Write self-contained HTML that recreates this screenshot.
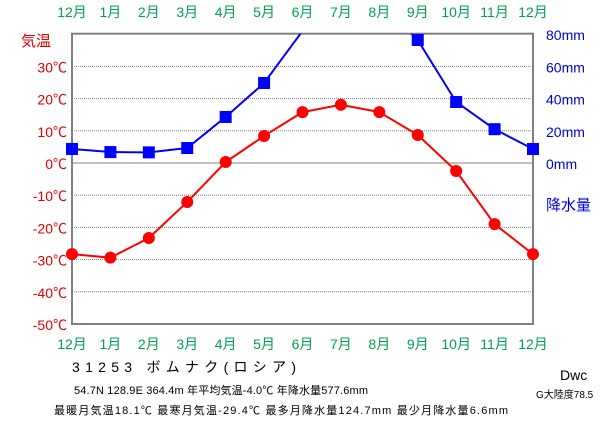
<!DOCTYPE html>
<html><head><meta charset="utf-8"><style>
body{margin:0;background:#fff;width:615px;height:425px;overflow:hidden;font-family:"Liberation Sans","Noto Sans CJK JP",sans-serif}
text{font-family:"Liberation Sans","Noto Sans CJK JP",sans-serif}
</style></head><body>
<svg id="chart" width="615" height="425" viewBox="0 0 615 425" xmlns="http://www.w3.org/2000/svg">
<defs><clipPath id="clip"><rect x="0" y="33.7" width="615" height="391"/></clipPath></defs>
<g id="grid"></g>
<g id="axes"></g>
<g id="series" clip-path="url(#clip)"></g>
<text x="21" y="46" font-size="15" fill="#e00000">気温</text>
<text x="546" y="210" font-size="15" fill="#0000e0">降水量</text>
<text x="72" y="372" font-size="14" fill="#000" textLength="224" lengthAdjust="spacing">31253 ボムナク(ロシア)</text>
<text x="74" y="394" font-size="11" fill="#000" textLength="294" lengthAdjust="spacing">54.7N 128.9E 364.4m 年平均気温-4.0℃ 年降水量577.6mm</text>
<text x="54" y="414" font-size="11" fill="#000" textLength="454" lengthAdjust="spacing">最暖月気温18.1℃ 最寒月気温-29.4℃ 最多月降水量124.7mm 最少月降水量6.6mm</text>
<text x="560" y="380" font-size="14" fill="#000">Dwc</text>
<text x="536" y="398" font-size="10" fill="#000">G大陸度78.5</text>
</svg>
<script>
const months=["12月","1月","2月","3月","4月","5月","6月","7月","8月","9月","10月","11月","12月"];
const temps=[-28.3,-29.4,-23.3,-12.1,0.3,8.4,15.8,18.1,15.8,8.7,-2.5,-19.0,-28.3];
const precip=[8.7,6.8,6.6,9.3,28.6,49.7,82,124.7,100,76.4,37.9,21.0,8.7];
const tempTicks=[30,20,10,0,-10,-20,-30,-40,-50];
const precipTicks=[80,60,40,20,0];
const NS="http://www.w3.org/2000/svg";
const L=72,R=533,T=33.7,B=324;
const x=i=>L+i*(R-L)/(months.length-1);
const yT=t=>163-t*3.22;
const yP=p=>163-p*1.61;
function mk(tag,at,parent){const e=document.createElementNS(NS,tag);for(const k in at)e.setAttribute(k,at[k]);parent.appendChild(e);return e;}
const grid=document.getElementById('grid'),axes=document.getElementById('axes'),ser=document.getElementById('series');
tempTicks.forEach(t=>{
  if(t>-50){const g=mk('line',{x1:L,x2:R,y1:yT(t),y2:yT(t),stroke:'#808080','stroke-width':1,'stroke-dasharray':t===0?'none':'1,1'},grid);
  
  }
  const tx=mk('text',{x:67,y:yT(t)+6,'font-size':14,fill:'#e00000','text-anchor':'end'},axes);tx.textContent=t+'℃';
  
  
});
precipTicks.forEach(p=>{
  const tx=mk('text',{x:546,y:yP(p)+6,'font-size':14,fill:'#0000e0'},axes);tx.textContent=p+'mm';
  
  
});
const fr=mk('rect',{x:L,y:T,width:R-L,height:B-T,fill:'none',stroke:'#808080','stroke-width':2},axes);


months.forEach((m,i)=>{
  [17,349].forEach(yy=>{const tx=mk('text',{x:x(i),y:yy,'font-size':14,fill:'#00a050','text-anchor':'middle'},axes);tx.textContent=m;
  
  });
});
const pl=mk('polyline',{points:precip.map((p,i)=>x(i)+','+yP(p)).join(' '),fill:'none',stroke:'#0000ff','stroke-width':2},ser);


precip.forEach((p,i)=>{if(yP(p)<T+2)return;const r=mk('rect',{x:x(i)-6,y:yP(p)-6,width:12,height:12,fill:'#0000ff'},ser);
  
  });
const tl=mk('polyline',{points:temps.map((t,i)=>x(i)+','+yT(t)).join(' '),fill:'none',stroke:'#ff0000','stroke-width':2},ser);


temps.forEach((t,i)=>{const c=mk('circle',{cx:x(i),cy:yT(t),r:6,fill:'#ff0000'},ser);
  
  });
</script>
</body></html>
